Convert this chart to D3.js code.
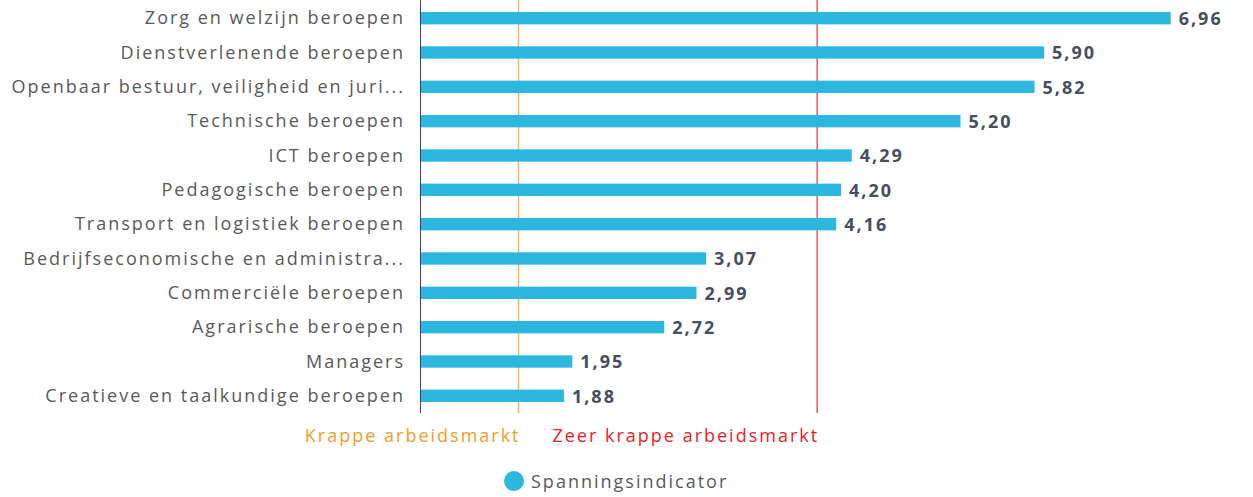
<!DOCTYPE html>
<html>
<head>
<meta charset="utf-8">
<script src="https://cdn.jsdelivr.net/npm/d3@7"></script>
<style>
  body { margin: 0; background: #fff; }
  svg { display: block; font-family: "Open Sans", sans-serif; letter-spacing: 2px; }
</style>
</head>
<body>
<svg id="chart" width="1253" height="497"></svg>
<script>
const categories = [
  "Zorg en welzijn beroepen",
  "Dienstverlenende beroepen",
  "Openbaar bestuur, veiligheid en juri...",
  "Technische beroepen",
  "ICT beroepen",
  "Pedagogische beroepen",
  "Transport en logistiek beroepen",
  "Bedrijfseconomische en administra...",
  "Commerciële beroepen",
  "Agrarische beroepen",
  "Managers",
  "Creatieve en taalkundige beroepen"
];
const values = [6.96, 5.90, 5.82, 5.20, 4.29, 4.20, 4.16, 3.07, 2.99, 2.72, 1.95, 1.88];
const thresholds = [
  {value: 1.5, label: "Krappe arbeidsmarkt", color: "#f9b25f", text: "#f39c2b"},
  {value: 4, label: "Zeer krappe arbeidsmarkt", color: "#f05a5a", text: "#ee1c25"}
];
const seriesName = "Spanningsindicator";

const svg = d3.select("#chart");
const margin = {top: 1, left: 420, bottom: 84};
const plotH = 497 - margin.top - margin.bottom;

const x = d3.scaleLinear().domain([0.675, 6.96]).range([420, 1170.7]);
const y = d3.scaleBand().domain(categories).range([margin.top, margin.top + plotH]).paddingInner(0.64).paddingOuter(0.32);

const fmt = v => d3.format(".2f")(v).replace(".", ",");

// threshold lines (behind the bars)
svg.append("g").selectAll("line")
  .data(thresholds)
  .join("line")
  .attr("x1", d => x(d.value))
  .attr("x2", d => x(d.value))
  .attr("y1", 0)
  .attr("y2", margin.top + plotH)
  .attr("stroke", d => d.color)
  .attr("stroke-width", 1.5);

// bars
svg.append("g").selectAll("rect")
  .data(values)
  .join("rect")
  .attr("x", x(0.675))
  .attr("y", (d, i) => y(categories[i]))
  .attr("width", d => x(d) - x(0.675))
  .attr("height", y.bandwidth())
  .attr("fill", "#2db7de");

svg.append("g").selectAll("text")
  .data(thresholds)
  .join("text")
  .attr("x", d => x(d.value) + 2)
  .attr("y", 442)
  .attr("text-anchor", "end")
  .attr("fill", d => d.text)
  .style("font-size", "18px")
  .text(d => d.label);

// axis line
svg.append("line")
  .attr("x1", 420.5).attr("x2", 420.5)
  .attr("y1", 0).attr("y2", margin.top + plotH)
  .attr("stroke", "#3b3a9e").attr("stroke-width", 1);

// category labels
svg.append("g").selectAll("text")
  .data(categories)
  .join("text")
  .attr("x", 405)
  .attr("y", d => y(d) + y.bandwidth() / 2)
  .attr("dy", "0.35em")
  .attr("text-anchor", "end")
  .attr("fill", "#595959")
  .style("font-size", "18px")
  .text(d => d);

// value labels
svg.append("g").selectAll("text")
  .data(values)
  .join("text")
  .attr("x", d => x(d) + 8)
  .attr("y", (d, i) => y(categories[i]) + y.bandwidth() / 2)
  .attr("dy", "0.38em")
  .attr("fill", "#474e5d")
  .style("font-size", "18px")
  .style("font-weight", "bold")
  .text(d => fmt(d));

// legend
const lg = svg.append("g");
lg.append("circle").attr("cx", 514).attr("cy", 481).attr("r", 10).attr("fill", "#2db7de");
lg.append("text").attr("x", 531).attr("y", 488)
  .attr("fill", "#595959").style("font-size", "18px").text(seriesName);
</script>
</body>
</html>
